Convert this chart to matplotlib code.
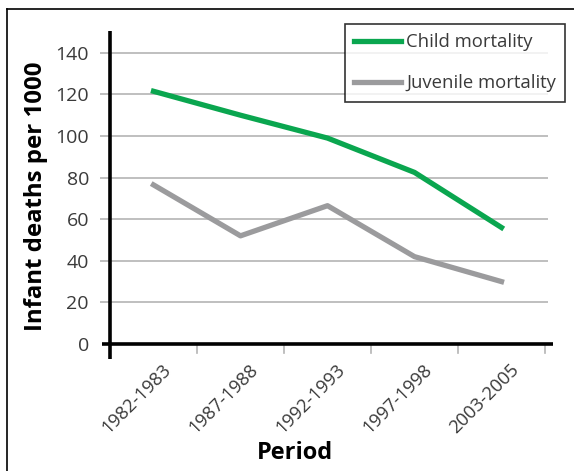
import numpy as np
import matplotlib.pyplot as plt
import matplotlib.transforms as mtransforms
from matplotlib.lines import Line2D

# 数据
periods = ["1982-1983", "1987-1988", "1992-1993", "1997-1998", "2003-2005"]
child = [121.5, 110, 99, 82.5, 56]
juvenile = [76.5, 52, 66.5, 42, 30]
y_ticks = [0, 20, 40, 60, 80, 100, 120, 140]

green = "#0aa64f"
grey = "#9b9b9d"
grid_grey = "#b4b4b4"
text_col = "#3a3a3a"

plt.rcParams['font.family'] = ['Open Sans', 'DejaVu Sans']

fig = plt.figure(figsize=(5.74, 4.71), dpi=100)
W, H = 574, 471
# 坐标区：像素 100..553 x 31..359
ax = fig.add_axes([100 / W, 1 - 359 / H, 453 / W, 328 / H])
x_left, x_right = -10 / 87, 443 / 87
y_bot, y_top = -15 / 2.08, 313 / 2.08
ax.set_xlim(x_left, x_right)
ax.set_ylim(y_bot, y_top)
for s in ax.spines.values():
    s.set_visible(False)
ax.patch.set_alpha(0)

# 网格线
for yv in y_ticks[1:]:
    ax.plot([x_left, 5 + 3 / 87], [yv, yv], color=grid_grey, lw=1.2, zorder=1,
            solid_capstyle='butt')

# 坐标轴
ax.plot([0, 0], [y_bot, y_top], color="black", lw=2.6, zorder=4, solid_capstyle='butt')
ax.plot([-8 / 87, x_right], [0, 0], color="black", lw=2.6, zorder=4, solid_capstyle='butt')
for xv in range(1, 6):
    ax.plot([xv, xv], [0, -4.5], color=grid_grey, lw=1.2, zorder=3)

# 曲线
xs = np.arange(len(periods)) + 0.5
ax.plot(xs, child, color=green, lw=3.8, zorder=5, label="Child mortality")
ax.plot(xs, juvenile, color=grey, lw=3.8, zorder=5, label="Juvenile mortality")

ax.set_yticks(y_ticks)
ax.set_yticklabels([str(v) for v in y_ticks], fontsize=14, color=text_col)
ax.tick_params(axis='y', length=0, pad=8)
ax.set_xticks(xs)
ax.set_xticklabels(periods, rotation=45, ha='right', va='top',
                   rotation_mode='anchor', fontsize=13.2, color=text_col)
ax.tick_params(axis='x', length=0, pad=1)
offset = mtransforms.ScaledTranslation(8 / 100, 0, fig.dpi_scale_trans)
for lab in ax.get_xticklabels():
    lab.set_transform(lab.get_transform() + offset)

fig.text(36 / W, 1 - 196 / H, "Infant deaths per 1000", rotation=90,
         ha='center', va='center', fontsize=17.3, fontweight='bold')
fig.text(295 / W, 1 - 453 / H, "Period", ha='center', va='center',
         fontsize=17, fontweight='bold')

leg = ax.legend(loc='upper left', bbox_to_anchor=(345 / W, 1 - 24 / H),
                bbox_transform=fig.transFigure, fontsize=13.3,
                frameon=True, fancybox=False, edgecolor="black",
                handlelength=2.55, handletextpad=0.25, labelspacing=1.25,
                borderpad=0.5, borderaxespad=0)
leg.get_frame().set_linewidth(1.2)
for t in leg.get_texts():
    t.set_color(text_col)

# 外框
fig.add_artist(Line2D([7 / W, 7 / W], [0, 1 - 9 / H], color="black", lw=1.2,
                      transform=fig.transFigure))
fig.add_artist(Line2D([7 / W, 1], [1 - 9 / H, 1 - 9 / H], color="black", lw=1.2,
                      transform=fig.transFigure))

fig.savefig("out.png", dpi=100)
